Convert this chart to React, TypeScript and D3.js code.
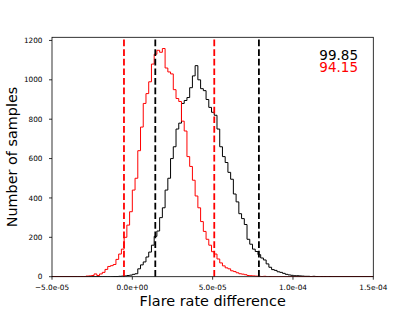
import React from 'react';
import * as d3 from 'd3';

// histogram bins (shared by both series)
const binStart = -3.4e-5;
const binWidth = 1.7e-6;

const redCounts = [
  0, 1, 0, 3, 4, 6, 14, 6, 14, 22,
  37, 52, 56, 62, 88, 115, 140, 200, 262, 330,
  440, 500, 640, 760, 880, 930, 990, 1080, 1130, 1150,
  1140, 1159, 1060, 1040, 1030, 950, 905, 890, 790, 740,
  610, 560, 490, 410, 350, 280, 230, 190, 160, 127,
  115, 90, 70, 55, 45, 40, 30, 26, 20, 15,
  13, 10, 6, 5, 4, 3, 2, 1, 2, 0, 1,
];

const blackCounts = [
  0, 0, 0, 0, 0, 0, 0, 0, 0, 0,
  0, 0, 0, 1, 1, 2, 3, 4, 6, 8,
  12, 15, 40, 60, 75, 100, 125, 160, 205, 232,
  300, 350, 440, 500, 600, 660, 750, 780, 880, 895,
  910, 960, 1020, 1072, 1000, 955, 945, 900, 860, 835,
  820, 750, 660, 610, 580, 530, 495, 420, 380, 320,
  295, 265, 190, 165, 140, 128, 112, 95, 85, 65,
  48, 36, 32, 25, 22, 17, 12, 9, 7, 5,
  5, 4, 3, 2, 2, 1, 2, 1, 0, 1,
  1, 0, 1,
];

// dashed interval lines
const redLines = [-5.2e-6, 5.1e-5];
const blackLines = [1.43e-5, 7.88e-5];

const xTicks = [-5e-5, 0, 5e-5, 1e-4, 1.5e-4];
const yTicks = [0, 200, 400, 600, 800, 1000, 1200];

const blackLabel = '99.85';
const redLabel = '94.15';

const W = 415;
const H = 311;
const m = { left: 52, right: 373.3, top: 37.3, bottom: 276.7 };
const font = 'DejaVu Sans, sans-serif';

const fmt = (v: number) => {
  const s = v.toExponential(1); // e.g. "-5.0e-5"
  const [mant, exp] = s.split('e');
  const sign = exp[0] === '-' ? '-' : '+';
  const digits = exp.replace(/[+-]/, '').padStart(2, '0');
  return (mant.replace('-', '\u2212')) + 'e' + sign + digits;
};

const App = () => {
  const x = d3.scaleLinear().domain([-5e-5, 1.5e-4]).range([m.left, m.right]);
  const y = d3.scaleLinear().domain([0, 1216]).range([m.bottom, m.top]);

  const stepLine = d3.line<[number, number]>()
    .x((d) => x(d[0]))
    .y((d) => y(d[1]));

  const histPath = (counts: number[]) => {
    const pts: [number, number][] = [[-5e-5, 0], [binStart, 0]];
    counts.forEach((c, i) => {
      pts.push([binStart + i * binWidth, c]);
      pts.push([binStart + (i + 1) * binWidth, c]);
    });
    pts.push([binStart + counts.length * binWidth, 0]);
    pts.push([1.5e-4, 0]);
    return stepLine(pts) || '';
  };

  return (
    <div style={{ position: 'fixed', left: 0, top: 0 }}>
      <svg width={W} height={H} style={{ display: 'block', background: '#fff' }}>
        <defs>
          <clipPath id="plot">
            <rect x={m.left} y={m.top} width={m.right - m.left} height={m.bottom - m.top} />
          </clipPath>
        </defs>

        <g clipPath="url(#plot)">
          <path d={histPath(blackCounts)} fill="none" stroke="#000" strokeWidth={1} />
          <path d={histPath(redCounts)} fill="none" stroke="#ff0000" strokeWidth={1} />

          {blackLines.map((v) => (
            <line key={'b' + v} x1={x(v)} x2={x(v)} y1={m.bottom} y2={m.top}
              stroke="#000" strokeWidth={1.8} strokeDasharray="6.7 2.9" />
          ))}
          {redLines.map((v) => (
            <line key={'r' + v} x1={x(v)} x2={x(v)} y1={m.bottom} y2={m.top}
              stroke="#ff0000" strokeWidth={1.8} strokeDasharray="6.7 2.9" />
          ))}
        </g>

        {/* spines */}
        <rect x={m.left} y={m.top} width={m.right - m.left} height={m.bottom - m.top}
          fill="none" stroke="#000" strokeWidth={0.8} />

        {/* x axis */}
        {xTicks.map((t) => (
          <g key={t}>
            <line x1={x(t)} x2={x(t)} y1={m.bottom} y2={m.bottom + 3} stroke="#000" strokeWidth={0.8} />
            <text x={x(t)} y={290} textAnchor="middle" fontFamily={font} fontSize={7.3}>{fmt(t)}</text>
          </g>
        ))}

        {/* y axis */}
        {yTicks.map((t) => (
          <g key={t}>
            <line x1={m.left - 3} x2={m.left} y1={y(t)} y2={y(t)} stroke="#000" strokeWidth={0.8} />
            <text x={m.left - 9.5} y={y(t)} dy="0.35em" textAnchor="end" fontFamily={font} fontSize={7.3}>{t}</text>
          </g>
        ))}

        <text x={(m.left + m.right) / 2} y={306} textAnchor="middle" fontFamily={font} fontSize={14.4}>
          Flare rate difference
        </text>
        <text transform={`translate(17,${(m.top + m.bottom) / 2}) rotate(-90)`} textAnchor="middle"
          fontFamily={font} fontSize={14.4}>
          Number of samples
        </text>

        <text x={358} y={60} textAnchor="end" fontFamily={font} fontSize={13.5} fill="#000">{blackLabel}</text>
        <text x={358} y={72} textAnchor="end" fontFamily={font} fontSize={13.5} fill="#ff0000">{redLabel}</text>
      </svg>
    </div>
  );
};

export default App;
